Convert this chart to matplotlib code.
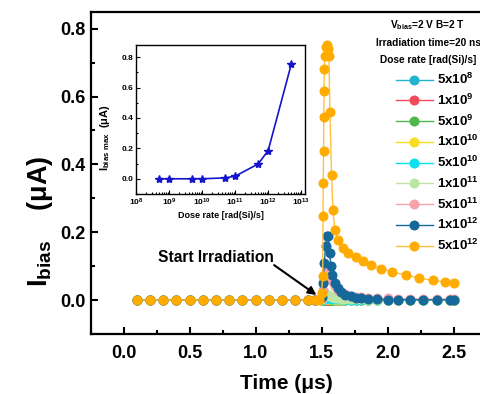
import matplotlib
matplotlib.use("Agg")
import matplotlib.pyplot as plt
from matplotlib.ticker import MultipleLocator, LogLocator, NullFormatter, FixedLocator, FormatStrFormatter

plt.rcParams['font.family'] = ['Liberation Sans', 'DejaVu Sans']
plt.rcParams['font.weight'] = 'bold'
plt.rcParams['axes.labelweight'] = 'bold'
plt.rcParams['mathtext.fontset'] = 'custom'
plt.rcParams['mathtext.rm'] = 'Liberation Sans:bold'
plt.rcParams['mathtext.bf'] = 'Liberation Sans:bold'
plt.rcParams['mathtext.it'] = 'Liberation Sans:bold'
plt.rcParams['mathtext.default'] = 'rm'

# ---------------- data ----------------
labels = ["5x10$^{8}$", "1x10$^{9}$", "5x10$^{9}$", "1x10$^{10}$", "5x10$^{10}$",
          "1x10$^{11}$", "5x10$^{11}$", "1x10$^{12}$", "5x10$^{12}$"]
colors = ["#22b4cc", "#f44a5c", "#4db84d", "#f7de1e", "#08e0ee",
          "#bde6a6", "#f7a3ab", "#15699a", "#ffab00"]

t_low = [0.1, 0.2, 0.3, 0.4, 0.5, 0.6, 0.7, 0.8, 0.9, 1.0, 1.1, 1.2, 1.3, 1.4,
         1.45, 1.5, 1.51, 1.52, 1.53, 1.54, 1.55, 1.56, 1.57, 1.58,
         1.6, 1.62, 1.65, 1.68, 1.72, 1.76,
         1.8, 1.85, 1.92, 2.0, 2.08, 2.17, 2.27, 2.37, 2.47, 2.5]

i_5e8 = [0, 0, 0, 0, 0, 0, 0, 0, 0, 0, 0, 0, 0, 0,
         0, 0.0001, 0.0003, 0.0005, 0.0005, 0.0005, 0.0004, 0.0004, 0.0003, 0.0003,
         0.0002, 0.0002, 0.0001, 0.0001, 0.0001, 0.0001,
         0, 0, 0, 0, 0, 0, 0, 0, 0, 0]
i_1e9 = [0, 0, 0, 0, 0, 0, 0, 0, 0, 0, 0, 0, 0, 0,
         0, 0.0002, 0.0006, 0.0009, 0.001, 0.001, 0.0009, 0.0008, 0.0007, 0.0006,
         0.0005, 0.0004, 0.0003, 0.0002, 0.0002, 0.0001,
         0.0001, 0.0001, 0, 0, 0, 0, 0, 0, 0, 0]
i_5e9 = [0, 0, 0, 0, 0, 0, 0, 0, 0, 0, 0, 0, 0, 0,
         0, 0.0004, 0.0012, 0.0018, 0.002, 0.002, 0.0018, 0.0016, 0.0014, 0.0012,
         0.001, 0.0008, 0.0006, 0.0005, 0.0004, 0.0003,
         0.0002, 0.0002, 0.0001, 0.0001, 0.0001, 0, 0, 0, 0, 0]
i_1e10 = [0, 0, 0, 0, 0, 0, 0, 0, 0, 0, 0, 0, 0, 0,
          0, 0.0006, 0.0018, 0.0027, 0.003, 0.003, 0.0027, 0.0024, 0.002, 0.0018,
          0.0015, 0.0012, 0.0009, 0.0007, 0.0005, 0.0004,
          0.0003, 0.0003, 0.0002, 0.0002, 0.0001, 0.0001, 0.0001, 0, 0, 0]
i_5e10 = [0, 0, 0, 0, 0, 0, 0, 0, 0, 0, 0, 0, 0, 0,
          0, 0.001, 0.004, 0.006, 0.007, 0.007, 0.0065, 0.0058, 0.005, 0.0043,
          0.0035, 0.0028, 0.0021, 0.0016, 0.0012, 0.001,
          0.0008, 0.0006, 0.0005, 0.0004, 0.0003, 0.0003, 0.0002, 0.0002, 0.0002, 0.0002]
i_1e11 = [0, 0, 0, 0, 0, 0, 0, 0, 0, 0, 0, 0, 0, 0,
          0, 0.002, 0.008, 0.014, 0.017, 0.017, 0.015, 0.013, 0.011, 0.009,
          0.007, 0.006, 0.0045, 0.0035, 0.0027, 0.0021,
          0.0017, 0.0014, 0.0011, 0.0009, 0.0008, 0.0007, 0.0006, 0.0005, 0.0005, 0.0005]
i_5e11 = [0, 0, 0, 0, 0, 0, 0, 0, 0, 0, 0, 0, 0, 0,
          0, 0.005, 0.03, 0.06, 0.085, 0.1, 0.095, 0.08, 0.066, 0.055,
          0.041, 0.031, 0.023, 0.017, 0.013, 0.01,
          0.008, 0.007, 0.006, 0.005, 0.0045, 0.004, 0.0035, 0.003, 0.003, 0.003]
i_1e12 = [0, 0, 0, 0, 0, 0, 0, 0, 0, 0, 0, 0, 0, 0,
          0, 0.01, 0.05, 0.11, 0.16, 0.188, 0.19, 0.14, 0.1, 0.075,
          0.05, 0.036, 0.024, 0.016, 0.011, 0.007,
          0.005, 0.003, 0.002, 0.0015, 0.001, 0.001, 0.0008, 0.0006, 0.0005, 0.0005]

t_5e12 = [0.1, 0.2, 0.3, 0.4, 0.5, 0.6, 0.7, 0.8, 0.9, 1.0, 1.1, 1.2, 1.3, 1.4,
          1.45, 1.48, 1.5, 1.508, 1.51, 1.512, 1.514, 1.516, 1.518, 1.52, 1.524,
          1.53, 1.537, 1.545, 1.555, 1.562, 1.575, 1.585, 1.6, 1.625, 1.66, 1.7,
          1.757, 1.81, 1.873, 1.95, 2.03, 2.136, 2.237, 2.34, 2.434, 2.5]
i_5e12 = [0, 0, 0, 0, 0, 0, 0, 0, 0, 0, 0, 0, 0, 0,
          0, 0.0, 0.02, 0.07, 0.248, 0.345, 0.44, 0.54, 0.615, 0.68, 0.72,
          0.745, 0.752, 0.74, 0.72, 0.555, 0.368, 0.265, 0.207, 0.176, 0.153, 0.139,
          0.126, 0.115, 0.103, 0.093, 0.083, 0.074, 0.065, 0.058, 0.053, 0.05]

series_t = [t_low] * 8 + [t_5e12]
series_i = [i_5e8, i_1e9, i_5e9, i_1e10, i_5e10, i_1e11, i_5e11, i_1e12, i_5e12]

dose_rate = [5e8, 1e9, 5e9, 1e10, 5e10, 1e11, 5e11, 1e12, 5e12]
i_max = [0.0, 0.0, 0.0, 0.0, 0.006, 0.017, 0.098, 0.186, 0.754]

# ---------------- figure ----------------
W, H = 480, 394
fig = plt.figure(figsize=(W / 100, H / 100), dpi=100)
ax = fig.add_axes([90.7 / W, 60 / H, 392 / W, 322.3 / H])

handles = []
for t, y, c, lab in zip(series_t, series_i, colors, labels):
    lc = "#ffc040" if c == "#ffab00" else c
    h, = ax.plot(t, y, '-', color=lc, lw=1.0, marker='o', ms=6.2,
                 mfc=c, mec=c, label=lab)
    handles.append(h)

ax.set_xlim(-0.25, 2.72)
ax.set_ylim(-0.1, 0.85)
ax.xaxis.set_major_locator(MultipleLocator(0.5))
ax.xaxis.set_minor_locator(MultipleLocator(0.25))
ax.yaxis.set_major_locator(MultipleLocator(0.2))
ax.yaxis.set_minor_locator(MultipleLocator(0.1))
ax.tick_params(which='both', direction='in', width=1.5, labelsize=13)
ax.tick_params(which='major', length=5)
ax.tick_params(which='minor', length=3)
ax.tick_params(axis='x', pad=8)
for s in ax.spines.values():
    s.set_linewidth(1.6)
ax.xaxis.set_major_formatter(FormatStrFormatter('%.1f'))
ax.yaxis.set_major_formatter(FormatStrFormatter('%.1f'))
ax.set_xlabel("Time (μs)", fontsize=15)
ax.xaxis.set_label_coords(0.5, -0.123)
ax.set_ylabel("I$_{bias}$    (μA)", fontsize=19.5)
ax.yaxis.set_label_coords(-0.09, 0.35)

ax.text(1.135, 0.126, "Start Irradiation", fontsize=11.2, fontweight='bold',
        ha='right', va='center')
ax.annotate("", xy=(1.46, 0.015), xytext=(1.14, 0.103),
            arrowprops=dict(arrowstyle='-|>', color='black', lw=1.5,
                            mutation_scale=12, shrinkA=0, shrinkB=0))

# legend title lines
for yy, txt in zip([25, 43, 60], ["V$_{bias}$=2 V B=2 T",
                                  "Irradiation time=20 ns",
                                  "Dose rate [rad(Si)/s]"]):
    fig.text(428 / W, 1 - yy / H, txt, fontsize=7.3, fontweight='bold',
             ha='center', va='center')

fig.legend(handles=handles, loc='upper left',
           bbox_to_anchor=(396 / W, 1 - 72 / H), bbox_transform=fig.transFigure,
           frameon=False, fontsize=9.5, handlelength=2.8, handletextpad=0.3,
           labelspacing=0.42, borderpad=0, borderaxespad=0, markerscale=1.0)

# ---------------- inset ----------------
axi = fig.add_axes([136 / W, 200 / H, 169 / W, 149 / H])
axi.plot(dose_rate, i_max, '-', color='#1414cc', lw=1.2, marker='*', ms=6,
         mfc='#1414cc', mec='#1414cc')
axi.set_xscale('log')
axi.set_xlim(1e8, 1.3e13)
axi.set_ylim(-0.1, 0.88)
axi.xaxis.set_major_locator(FixedLocator([1e8, 1e9, 1e10, 1e11, 1e12, 1e13]))
axi.xaxis.set_minor_locator(LogLocator(base=10, subs=range(2, 10), numticks=20))
axi.xaxis.set_minor_formatter(NullFormatter())
axi.yaxis.set_major_locator(MultipleLocator(0.2))
axi.yaxis.set_minor_locator(MultipleLocator(0.1))
axi.yaxis.set_major_formatter(FormatStrFormatter('%.1f'))
axi.tick_params(which='both', direction='in', width=0.8, labelsize=6, pad=2)
axi.tick_params(which='major', length=3)
axi.tick_params(which='minor', length=1.5)
for s in axi.spines.values():
    s.set_linewidth(1.0)
axi.set_xlabel("Dose rate [rad(Si)/s]", fontsize=6.5, labelpad=2)
axi.set_ylabel("I$_{bias\\ max}$  (μA)", fontsize=8)
axi.yaxis.set_label_coords(-0.14, 0.38)

fig.savefig("out.png", dpi=100)
